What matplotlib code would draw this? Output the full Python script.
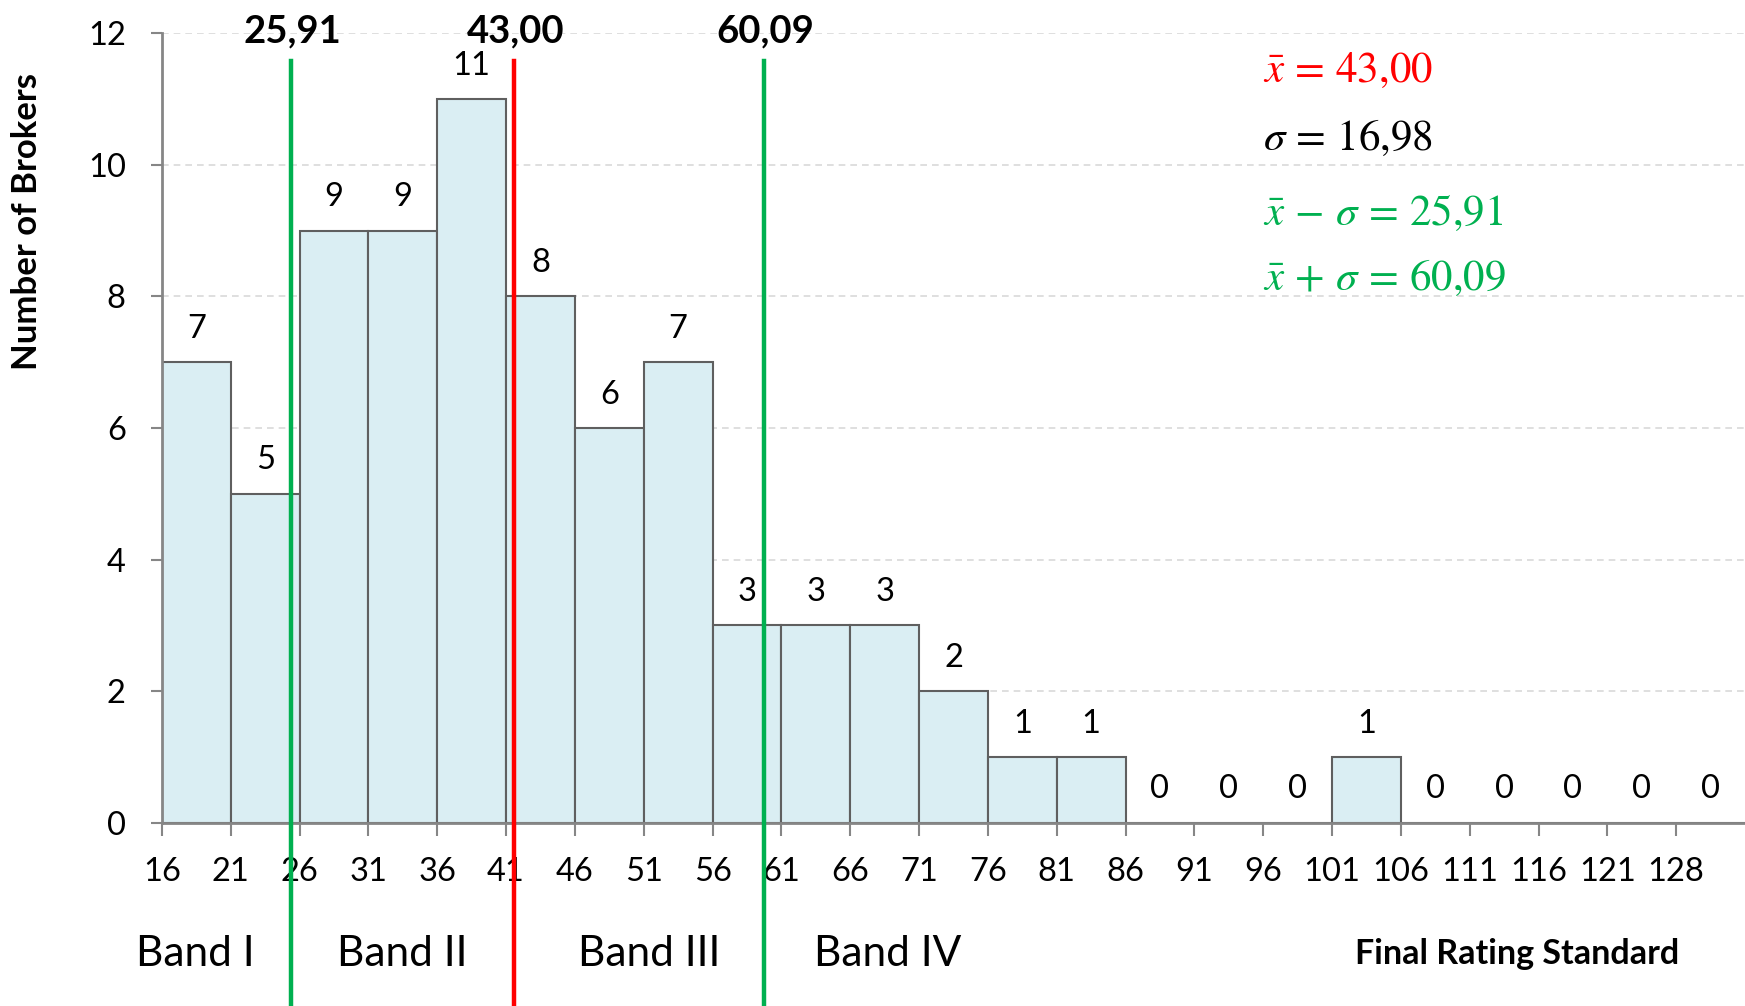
import matplotlib
matplotlib.use("Agg")
import matplotlib.pyplot as plt
import numpy as np

# data
bin_labels = ["16", "21", "26", "31", "36", "41", "46", "51", "56", "61", "66", "71",
              "76", "81", "86", "91", "96", "101", "106", "111", "116", "121", "128"]
counts = [7, 5, 9, 9, 11, 8, 6, 7, 3, 3, 3, 2, 1, 1, 0, 0, 0, 1, 0, 0, 0, 0, 0]

# reference lines (position in bin units, label, colour)
line_pos = [1.88, 5.12, 8.74]
line_labels = ["25,91", "43,00", "60,09"]
line_colors = ["#00B050", "#FF0000", "#00B050"]

band_names = ["Band I", "Band II", "Band III", "Band IV"]
band_pos = [0.48, 3.49, 7.08, 10.55]

stats_text = [r"$\bar{x}\, =\, 43{,}00$", r"$\sigma\, =\, 16{,}98$",
              r"$\bar{x}\, -\, \sigma\, =\, 25{,}91$", r"$\bar{x}\, +\, \sigma\, =\, 60{,}09$"]
stats_colors = ["#FF0000", "#000000", "#00B050", "#00B050"]
stats_y = [11.44, 10.41, 9.27, 8.28]

plt.rcParams["font.family"] = ["Lato", "DejaVu Sans"]
plt.rcParams["mathtext.fontset"] = "stix"

fig = plt.figure(figsize=(17.45, 10.06), dpi=100)
ax = fig.add_axes([0.0928, 0.1822, 0.9072, 0.7847])

x = np.arange(len(counts))
ax.bar(x + 0.5, counts, width=1.0, color="#DAEEF3", edgecolor="#5F5F5F",
       linewidth=1.5, zorder=2)

for xi, c in zip(x, counts):
    ax.annotate(str(c), (xi + 0.5, c), xytext=(0, 24), textcoords="offset points",
                ha="center", va="center", fontsize=23.5, color="black")

ax.set_xlim(0, len(counts))
ax.set_ylim(0, 12)
ax.set_xticks(x)
ax.set_xticklabels(bin_labels)
ax.set_yticks(range(0, 13, 2))
ax.tick_params(axis="x", labelsize=23.5, length=9, width=1.5, color="#868686", pad=16)
ax.tick_params(axis="y", labelsize=23.5, length=8, width=1.5, color="#868686", pad=18)

ax.grid(axis="y", linestyle=(0, (4, 3)), color="#D9D9D9", linewidth=1.2, zorder=0)
ax.set_axisbelow(True)
for s in ["top", "right"]:
    ax.spines[s].set_visible(False)
for s in ["left", "bottom"]:
    ax.spines[s].set_color("#868686")
    ax.spines[s].set_linewidth(2)
    ax.spines[s].set_zorder(3)

# vertical lines running down past the axis to the bottom of the figure
for p, lab, col in zip(line_pos, line_labels, line_colors):
    ax.plot([p, p], [11.58, -3.0], color=col, linewidth=3.2, clip_on=False, zorder=4)
    ax.text(p + 0.02, 12.02, lab, ha="center", va="center", fontsize=27.5,
            fontweight="bold", clip_on=False)

for name, bp in zip(band_names, band_pos):
    ax.text(bp, -2.0, name, ha="center", va="center", fontsize=30.5)

ax.text(19.69, -2.0, "Final Rating Standard", ha="center", va="center",
        fontsize=24.5, fontweight="bold")

for t, c, yy in zip(stats_text, stats_colors, stats_y):
    ax.text(15.99, yy, t, ha="left", va="center", fontsize=31, color=c)

fig.text(27 / 1745, 1 - 222 / 1006, "Number of Brokers", rotation=90,
         ha="center", va="center", fontsize=25, fontweight="bold")

fig.savefig("out.png", dpi=100, facecolor="white")
